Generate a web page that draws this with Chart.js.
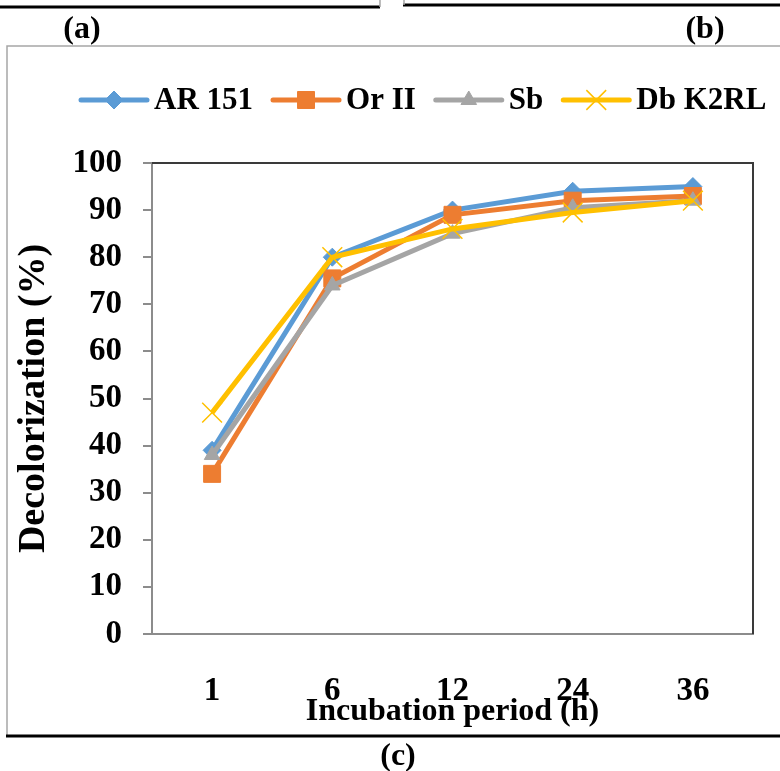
<!DOCTYPE html>
<html>
<head>
<meta charset="utf-8">
<script src="https://cdn.jsdelivr.net/npm/chart.js@4/dist/chart.umd.min.js"></script>
<style>
  html, body { margin: 0; padding: 0; background: #fff; }
</style>
</head>
<body>
<canvas id="decolor-chart" width="780" height="771"></canvas>
<script>
// Panel (c): decolorization vs incubation period

var hours = ['1', '6', '12', '24', '36'];
var seriesNames = ['AR 151', 'Or II', 'Sb', 'Db K2RL'];
var ar151 = [39, 80, 90, 94, 95];
var orII = [34, 75.5, 89, 92, 93];
var sb = [38, 74, 85, 90.5, 92];
var dbK2RL = [47, 80, 86, 89.5, 92];
var yMin = 0, yMax = 100, yStep = 10;

var serif = "'Liberation Serif', 'Times New Roman', serif";
var axisGray = '#8c8c8c';

// page bits around the chart: neighbouring panels, frame, captions
var decorations = {
  id: 'decorations',
  beforeDraw: function (chart) {
    var ctx = chart.ctx;
    ctx.save();
    ctx.fillStyle = '#fff';
    ctx.fillRect(0, 0, chart.width, chart.height);

    ctx.strokeStyle = '#000';
    ctx.lineWidth = 3;
    ctx.beginPath();
    ctx.moveTo(0, 7); ctx.lineTo(380, 7);
    ctx.moveTo(403, 5); ctx.lineTo(780, 5);
    ctx.stroke();

    ctx.strokeStyle = '#a6a6a6';
    ctx.lineWidth = 1.5;
    ctx.beginPath();
    ctx.moveTo(380, 0); ctx.lineTo(380, 7);
    ctx.moveTo(404, 0); ctx.lineTo(404, 5);
    ctx.moveTo(790, 46); ctx.lineTo(7, 46); ctx.lineTo(7, 736);
    ctx.stroke();

    ctx.strokeStyle = '#000';
    ctx.lineWidth = 3;
    ctx.beginPath();
    ctx.moveTo(6, 736); ctx.lineTo(780, 736);
    ctx.stroke();

    ctx.fillStyle = '#000';
    ctx.font = 'bold 32px ' + serif;
    ctx.textAlign = 'center';
    ctx.textBaseline = 'middle';
    ctx.fillText('(a)', 82, 30);
    ctx.fillText('(b)', 705, 30);
    ctx.fillText('(c)', 398, 757);
    ctx.restore();
  },
  beforeDatasetsDraw: function (chart) {
    // dark top and right edges of the plot area
    var a = chart.chartArea;
    var ctx = chart.ctx;
    ctx.save();
    ctx.strokeStyle = '#3a3a3a';
    ctx.lineWidth = 2;
    ctx.beginPath();
    ctx.moveTo(a.left, a.top); ctx.lineTo(a.right, a.top); ctx.lineTo(a.right, a.bottom);
    ctx.stroke();
    ctx.restore();
  },
  afterDraw: function (chart) {
    // legend: line with marker, then label
    var ctx = chart.ctx;
    var x = 81, y = 100;
    ctx.save();
    ctx.font = 'bold 31px ' + serif;
    ctx.textBaseline = 'middle';
    ctx.textAlign = 'left';
    chart.data.datasets.forEach(function (ds) {
      ctx.strokeStyle = ds.borderColor;
      ctx.lineWidth = 5;
      ctx.lineCap = 'round';
      ctx.beginPath();
      ctx.moveTo(x, y); ctx.lineTo(x + 66, y);
      ctx.stroke();
      ctx.lineCap = 'butt';
      ctx.fillStyle = ds.pointBackgroundColor;
      ctx.strokeStyle = ds.pointBorderColor;
      ctx.lineWidth = ds.pointBorderWidth;
      Chart.helpers.drawPoint(ctx, {
        pointStyle: ds.pointStyle,
        radius: ds.pointRadius,
        rotation: 0,
        borderWidth: ds.pointBorderWidth
      }, x + 33, y);
      ctx.fillStyle = '#000';
      ctx.fillText(ds.label, x + 73, y + 1);
      x += 73 + ctx.measureText(ds.label).width + 20;
    });
    ctx.restore();
  }
};

var ctx = document.getElementById('decolor-chart').getContext('2d');
var chart = new Chart(ctx, {
  type: 'line',
  data: {
    labels: hours,
    datasets: [{
      label: seriesNames[0],
      data: ar151,
      borderColor: '#5b9bd5',
      pointBackgroundColor: '#5b9bd5',
      pointBorderColor: '#5b9bd5',
      pointStyle: 'rectRot',
      pointRadius: 9,
      pointBorderWidth: 1,
      order: 4
    }, {
      label: seriesNames[1],
      data: orII,
      borderColor: '#ed7d31',
      pointBackgroundColor: '#ed7d31',
      pointBorderColor: '#ed7d31',
      pointStyle: 'rect',
      pointRadius: 12,
      pointBorderWidth: 1,
      order: 3
    }, {
      label: seriesNames[2],
      data: sb,
      borderColor: '#a5a5a5',
      pointBackgroundColor: '#a5a5a5',
      pointBorderColor: '#a5a5a5',
      pointStyle: 'triangle',
      pointRadius: 9,
      pointBorderWidth: 1,
      order: 2
    }, {
      label: seriesNames[3],
      data: dbK2RL,
      borderColor: '#ffc000',
      pointBackgroundColor: '#ffc000',
      pointBorderColor: '#ffc000',
      pointStyle: 'crossRot',
      pointRadius: 14,
      pointBorderWidth: 1.5,
      order: 1
    }]
  },
  options: {
    responsive: false,
    animation: false,
    devicePixelRatio: 1,
    elements: {
      line: { borderWidth: 5, tension: 0, fill: false }
    },
    layout: {
      padding: { left: 8, top: 163, right: 27, bottom: 36 }
    },
    plugins: {
      legend: { display: false },
      tooltip: { enabled: false }
    },
    scales: {
      x: {
        offset: true,
        grid: { display: false, drawTicks: false, tickLength: 0 },
        border: { display: true, color: axisGray, width: 2 },
        ticks: {
          color: '#000',
          padding: 38,
          font: { family: serif, size: 33, weight: 'bold' }
        },
        title: {
          display: true,
          text: 'Incubation period (h)',
          color: '#000',
          padding: { top: 0, bottom: 7 },
          font: { family: serif, size: 32, weight: 'bold', lineHeight: 1 }
        },
        afterFit: function (scale) { scale.height = 101; }
      },
      y: {
        min: yMin,
        max: yMax,
        grid: {
          display: true,
          drawOnChartArea: false,
          drawTicks: true,
          tickLength: 9,
          color: axisGray,
          lineWidth: 2
        },
        border: { display: true, color: axisGray, width: 2 },
        ticks: {
          stepSize: yStep,
          color: '#000',
          padding: 21,
          font: { family: serif, size: 33, weight: 'bold' }
        },
        title: {
          display: true,
          text: 'Decolorization (%)',
          color: '#000',
          padding: { top: 7, bottom: 0 },
          font: { family: serif, size: 38, weight: 'bold', lineHeight: 1 }
        },
        afterFit: function (scale) { scale.width = 144; }
      }
    }
  },
  plugins: [decorations]
});
</script>
</body>
</html>
